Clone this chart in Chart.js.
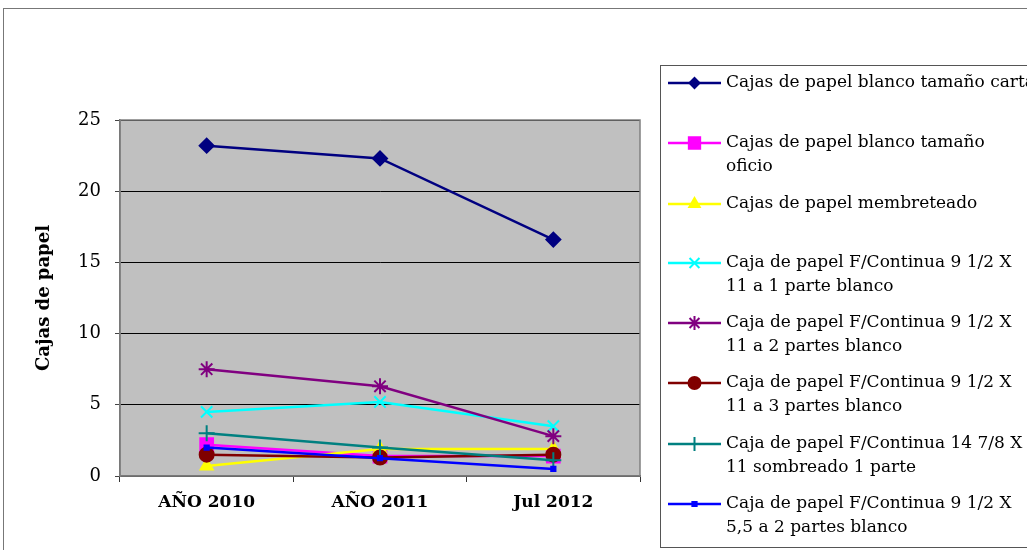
<!DOCTYPE html>
<html>
<head>
<meta charset="utf-8">
<script src="https://cdn.jsdelivr.net/npm/chart.js@4.4.1/dist/chart.umd.min.js"></script>
<style>
  html, body { margin: 0; padding: 0; background: #fff; }
  canvas { display: block; }
</style>
</head>
<body>
<canvas id="c" width="1027" height="550"></canvas>
<script>
/* Cajas de papel por periodo: line chart with Excel-style legend box */
var LABELS = ['AÑO 2010', 'AÑO 2011', 'Jul 2012'];

var CARTA       = [23.2, 22.3, 16.6];
var OFICIO      = [2.2, 1.4, 1.4];
var MEMBRETE    = [0.7, 1.9, 1.9];
var CONT_1P     = [4.5, 5.2, 3.5];
var CONT_2P     = [7.5, 6.3, 2.8];
var CONT_3P     = [1.5, 1.3, 1.5];
var SOMBREADO   = [3.0, 2.0, 1.1];
var CONT_55     = [2.0, 1.25, 0.5];

var NAMES = [
  ['Cajas de papel blanco tamaño carta'],
  ['Cajas de papel blanco tamaño', 'oficio'],
  ['Cajas de papel membreteado'],
  ['Caja de papel F/Continua 9 1/2 X', '11 a 1 parte blanco'],
  ['Caja de papel F/Continua 9 1/2 X', '11 a 2 partes blanco'],
  ['Caja de papel F/Continua 9 1/2 X', '11 a 3 partes blanco'],
  ['Caja de papel F/Continua 14 7/8 X', '11 sombreado 1 parte'],
  ['Caja de papel F/Continua 9 1/2 X', '5,5 a 2 partes blanco']
];
var Y_TICKS = [0, 5, 10, 15, 20, 25];

var SERIES = [CARTA, OFICIO, MEMBRETE, CONT_1P, CONT_2P, CONT_3P, SOMBREADO, CONT_55];
var COLORS = ['#000080', '#ff00ff', '#ffff00', '#00ffff', '#800080', '#800000', '#008080', '#0000ff'];
var STYLES = ['rectRot', 'rect', 'triangle', 'crossRot', 'star', 'circle', 'cross', 'rect'];
var RADII  = [7, 9, 7, 8, 8, 7, 8, 3];
var LEG_RADII = [5, 8, 6, 7, 7, 6, 7, 3];

var SERIF = '"DejaVu Serif", serif';

var datasets = SERIES.map(function (d, i) {
  return {
    label: NAMES[i].join(' '),
    data: d,
    borderColor: COLORS[i],
    backgroundColor: COLORS[i],
    borderWidth: 2.5,
    pointStyle: STYLES[i],
    pointRadius: RADII[i],
    pointBorderWidth: 2,
    pointHoverRadius: RADII[i],
    tension: 0,
    order: SERIES.length - i
  };
});

var frame = {
  id: 'frame',
  beforeDraw: function (chart) {
    var ctx = chart.ctx, a = chart.chartArea;
    ctx.save();
    ctx.fillStyle = '#fff';
    ctx.fillRect(0, 0, chart.width, chart.height);
    ctx.strokeStyle = '#777';
    ctx.lineWidth = 1;
    ctx.strokeRect(3.5, 8.5, 1200, 700);
    ctx.fillStyle = '#c0c0c0';
    ctx.fillRect(a.left, a.top, a.right - a.left, a.bottom - a.top);
    ctx.restore();
  },
  beforeDatasetsDraw: function (chart) {
    var ctx = chart.ctx, a = chart.chartArea;
    ctx.save();
    ctx.strokeStyle = '#808080';
    ctx.lineWidth = 1.5;
    ctx.strokeRect(a.left, a.top, a.right - a.left, a.bottom - a.top);
    ctx.restore();
  },
  afterDraw: function (chart) {
    var ctx = chart.ctx;
    ctx.save();
    ctx.strokeStyle = '#555';
    ctx.lineWidth = 1;
    ctx.strokeRect(660.5, 65.5, 500, 482);
    var ys = [83, 143, 204, 263, 323, 383, 444, 504];
    ctx.font = '17px ' + SERIF;
    ctx.textBaseline = 'middle';
    ctx.textAlign = 'left';
    NAMES.forEach(function (lines, i) {
      var y = ys[i];
      ctx.strokeStyle = COLORS[i];
      ctx.fillStyle = COLORS[i];
      ctx.lineWidth = 2.5;
      ctx.beginPath();
      ctx.moveTo(668, y);
      ctx.lineTo(721, y);
      ctx.stroke();
      ctx.lineWidth = 2;
      Chart.helpers.drawPoint(ctx, { pointStyle: STYLES[i], radius: LEG_RADII[i], rotation: 0, borderWidth: 2 }, 694.5, y);
      ctx.fillStyle = '#000';
      lines.forEach(function (t, j) {
        ctx.fillText(t, 726, y + j * 24);
      });
    });
    ctx.restore();
  }
};

new Chart(document.getElementById('c'), {
  type: 'line',
  data: { labels: LABELS, datasets: datasets },
  options: {
    responsive: false,
    animation: false,
    events: [],
    layout: { padding: { top: 120, right: 387, left: 0, bottom: 0 } },
    plugins: { legend: { display: false }, tooltip: { enabled: false } },
    scales: {
      x: {
        offset: true,
        afterFit: function (s) { s.height = 74; },
        grid: { offset: true, drawOnChartArea: false, drawTicks: true, tickLength: 6, color: '#333', lineWidth: 1 },
        border: { color: '#666', width: 1.5 },
        ticks: { color: '#000', padding: 10, font: { family: SERIF, size: 17, weight: 'bold' } }
      },
      y: {
        min: 0, max: 25,
        afterFit: function (s) { s.width = 120; },
        afterBuildTicks: function (s) { s.ticks = Y_TICKS.map(function (v) { return { value: v }; }); },
        grid: { color: '#000', lineWidth: 1, tickLength: 5, tickColor: '#444' },
        border: { color: '#666', width: 1.5 },
        ticks: { color: '#000', padding: 14, font: { family: SERIF, size: 18 } },
        title: {
          display: true, text: 'Cajas de papel', color: '#000',
          font: { family: SERIF, size: 18, weight: 'bold' },
          padding: { top: 34, bottom: 0 }
        }
      }
    }
  },
  plugins: [frame]
});
</script>
</body>
</html>
